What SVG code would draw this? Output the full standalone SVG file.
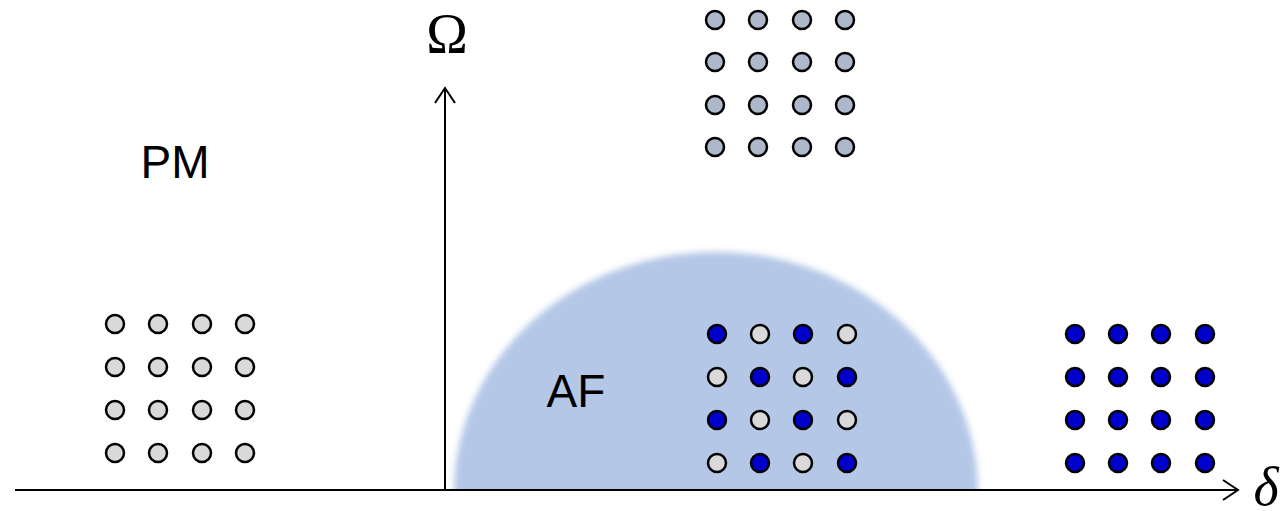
<svg xmlns="http://www.w3.org/2000/svg" width="1284" height="511" viewBox="0 0 1284 511">
<defs>
<style>
.g{fill:#d9d9d9;stroke:#000;stroke-width:2.5}
.b{fill:#0000cc;stroke:#000;stroke-width:2.5}
.s{fill:#adb9ca;stroke:#000;stroke-width:2.5}
.ax{stroke:#000;stroke-width:2;fill:none}
.lbl{font-family:"Liberation Sans",Arial,sans-serif;font-size:46px;fill:#000}
.sym{font-family:"Liberation Serif","Times New Roman",serif;fill:#000}
</style>
<filter id="blur" x="-10%" y="-10%" width="120%" height="120%"><feGaussianBlur stdDeviation="3"/></filter>
<clipPath id="clip"><rect x="0" y="0" width="1284" height="490"/></clipPath>
</defs>
<rect width="1284" height="511" fill="#fff"/>
<g id="af-region" clip-path="url(#clip)">
<ellipse cx="716" cy="492" rx="262" ry="240" fill="#b4c7e7" filter="url(#blur)"/>
</g>
<g id="axes">
<line class="ax" x1="15" y1="490" x2="1238" y2="490"/>
<polyline class="ax" points="1223,480 1238,490 1223,500"/>
<line class="ax" x1="445" y1="490" x2="445" y2="88"/>
<polyline class="ax" points="435,103 445,88 455,103"/>
</g>
<g id="label-omega"><text class="sym" x="447" y="53" font-size="56" text-anchor="middle">Ω</text></g>
<g id="label-delta"><text class="sym" x="1266" y="505" font-size="54" text-anchor="middle" font-style="italic">δ</text></g>
<g id="label-pm"><text class="lbl" x="175" y="178" text-anchor="middle">PM</text></g>
<g id="label-af"><text class="lbl" x="576" y="407" text-anchor="middle">AF</text></g>
<g id="grid-top">
<circle class="s" cx="715" cy="20" r="9"/><circle class="s" cx="758" cy="20" r="9"/><circle class="s" cx="802" cy="20" r="9"/><circle class="s" cx="845" cy="20" r="9"/>
<circle class="s" cx="715" cy="62" r="9"/><circle class="s" cx="758" cy="62" r="9"/><circle class="s" cx="802" cy="62" r="9"/><circle class="s" cx="845" cy="62" r="9"/>
<circle class="s" cx="715" cy="105" r="9"/><circle class="s" cx="758" cy="105" r="9"/><circle class="s" cx="802" cy="105" r="9"/><circle class="s" cx="845" cy="105" r="9"/>
<circle class="s" cx="715" cy="147" r="9"/><circle class="s" cx="758" cy="147" r="9"/><circle class="s" cx="802" cy="147" r="9"/><circle class="s" cx="845" cy="147" r="9"/>
</g>
<g id="grid-pm">
<circle class="g" cx="115" cy="324" r="9"/><circle class="g" cx="158" cy="324" r="9"/><circle class="g" cx="202" cy="324" r="9"/><circle class="g" cx="245" cy="324" r="9"/>
<circle class="g" cx="115" cy="367" r="9"/><circle class="g" cx="158" cy="367" r="9"/><circle class="g" cx="202" cy="367" r="9"/><circle class="g" cx="245" cy="367" r="9"/>
<circle class="g" cx="115" cy="410" r="9"/><circle class="g" cx="158" cy="410" r="9"/><circle class="g" cx="202" cy="410" r="9"/><circle class="g" cx="245" cy="410" r="9"/>
<circle class="g" cx="115" cy="453" r="9"/><circle class="g" cx="158" cy="453" r="9"/><circle class="g" cx="202" cy="453" r="9"/><circle class="g" cx="245" cy="453" r="9"/>
</g>
<g id="grid-af">
<circle class="b" cx="717" cy="334" r="9"/><circle class="g" cx="760" cy="334" r="9"/><circle class="b" cx="803" cy="334" r="9"/><circle class="g" cx="847" cy="334" r="9"/>
<circle class="g" cx="717" cy="377" r="9"/><circle class="b" cx="760" cy="377" r="9"/><circle class="g" cx="803" cy="377" r="9"/><circle class="b" cx="847" cy="377" r="9"/>
<circle class="b" cx="717" cy="420" r="9"/><circle class="g" cx="760" cy="420" r="9"/><circle class="b" cx="803" cy="420" r="9"/><circle class="g" cx="847" cy="420" r="9"/>
<circle class="g" cx="717" cy="463" r="9"/><circle class="b" cx="760" cy="463" r="9"/><circle class="g" cx="803" cy="463" r="9"/><circle class="b" cx="847" cy="463" r="9"/>
</g>
<g id="grid-right">
<circle class="b" cx="1075" cy="334" r="9"/><circle class="b" cx="1118" cy="334" r="9"/><circle class="b" cx="1161" cy="334" r="9"/><circle class="b" cx="1205" cy="334" r="9"/>
<circle class="b" cx="1075" cy="377" r="9"/><circle class="b" cx="1118" cy="377" r="9"/><circle class="b" cx="1161" cy="377" r="9"/><circle class="b" cx="1205" cy="377" r="9"/>
<circle class="b" cx="1075" cy="420" r="9"/><circle class="b" cx="1118" cy="420" r="9"/><circle class="b" cx="1161" cy="420" r="9"/><circle class="b" cx="1205" cy="420" r="9"/>
<circle class="b" cx="1075" cy="463" r="9"/><circle class="b" cx="1118" cy="463" r="9"/><circle class="b" cx="1161" cy="463" r="9"/><circle class="b" cx="1205" cy="463" r="9"/>
</g>
</svg>
